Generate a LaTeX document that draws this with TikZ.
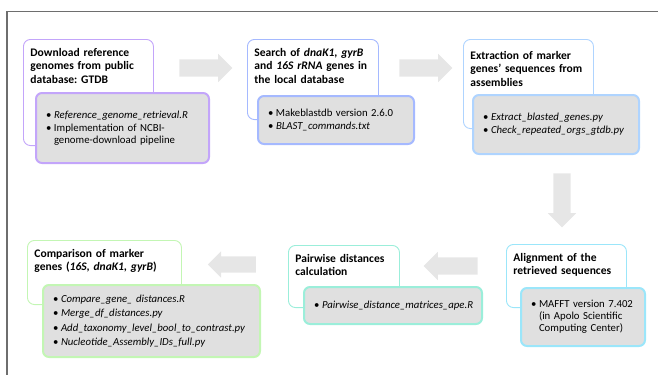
\documentclass[tikz,border=0pt]{standalone}
\usepackage{fontspec}
\setmainfont{Carlito}
\usetikzlibrary{shapes.arrows}

\definecolor{purp}{RGB}{195,165,250}
\definecolor{blu}{RGB}{165,185,255}
\definecolor{ltblu}{RGB}{175,212,255}
\definecolor{cyn}{RGB}{155,230,250}
\definecolor{mint}{RGB}{155,238,218}
\definecolor{grn}{RGB}{195,246,180}
\definecolor{boxgray}{RGB}{224,224,224}
\definecolor{arrowgray}{RGB}{230,230,230}
\definecolor{framegray}{RGB}{110,110,110}

\newcommand{\bul}{\makebox[8bp][l]{\textbullet}}
\newcommand{\bulcont}{\hspace*{8bp}}
\frenchspacing

\begin{document}
\begin{tikzpicture}[x=1bp, y=-1bp,
          titlebox/.style={rectangle, draw=#1, line width=0.9bp, rounded corners=7bp,
            fill=white, anchor=north west, align=left, inner xsep=7bp, inner ysep=9bp,
            font=\bfseries\fontsize{11.6}{13.3}\selectfont},
          toolbox/.style={rectangle, draw=#1, line width=2bp, rounded corners=6bp,
            fill=boxgray, anchor=north west, align=left, inner xsep=10bp, inner ysep=0bp,
            font=\fontsize{10.8}{12}\selectfont},
          bigarrow/.style={single arrow, fill=arrowgray, draw=none, inner xsep=0pt,
            inner ysep=8.5bp, single arrow head extend=5.5bp, minimum height=#1}]

        \useasboundingbox (0,0) rectangle (658,375);
        \draw[framegray, line width=1.2bp] (658,11.5) -- (7,11.5) -- (7,375);

        \node[titlebox=purp, text width=116bp, text depth=80bp] (dload) at (23,39)
          {Download reference\\genomes from public\\database: GTDB};
        \node[toolbox=purp, text width=153bp, minimum height=70bp] (dloadtools) at (35,92)
          {\bul\textit{Reference\_genome\_retrieval.R}\\[1bp]
           \bul Implementation of NCBI-\\\bulcont genome-download pipeline};

        \node[titlebox=blu, text width=117bp, text depth=54bp] (search) at (247,39)
          {Search of \textit{dnaK1}, \textit{gyrB}\\and \textit{16S rRNA} genes~in\\the local database};
        \node[toolbox=blu, text width=136bp, minimum height=48bp] (searchtools) at (257,95)
          {\bul Makeblastdb version 2.6.0\\[2bp]
           \bul\textit{BLAST\_commands.txt}};

        \node[titlebox=ltblu, text width=116bp, text depth=57bp, inner ysep=12bp] (extract) at (463,39)
          {Extraction of marker\\genes’ sequences~from\\assemblies};
        \node[toolbox=ltblu, text width=146bp, minimum height=59bp] (extracttools) at (472,94)
          {\bul\textit{Extract\_blasted\_genes.py}\\[1bp]
           \bul\textit{Check\_repeated\_orgs\_gtdb.py}};

        \node[titlebox=cyn, text width=106bp, text depth=37bp] (align) at (506,244)
          {Alignment of the\\retrieved sequences};
        \node[toolbox=cyn, text width=104bp, minimum height=58bp] (aligntools) at (520,287)
          {\bul MAFFT version 7.402\\\bulcont(in Apolo Scientific\\\bulcont Computing Center)};

        \node[titlebox=mint, text width=97bp, text depth=36bp] (pairw) at (288,245)
          {Pairwise distances\\calculation};
        \node[toolbox=mint, text width=158bp, minimum height=37bp] (pairwtools) at (303,286)
          {\bul\textit{Pairwise\_distance\_matrices\_ape.R}};

        \node[titlebox=grn, text width=140bp, text depth=38bp] (compare) at (27,240)
          {Comparison of marker\\genes (\textit{16S, dnaK1, gyrB})};
        \node[toolbox=grn, text width=197bp, minimum height=72bp] (comparetools) at (42,284)
          {\bul\textit{Compare\_gene\_ distances.R}\\[2.5bp]
           \bul\textit{Merge\_df\_distances.py}\\[2.5bp]
           \bul\textit{Add\_taxonomy\_level\_bool\_to\_contrast.py}\\[2.5bp]
           \bul\textit{Nucleotide\_Assembly\_IDs\_full.py}};

        \node[bigarrow=53bp] (arr1) at (201.5,68) {};
        \node[bigarrow=53bp] (arr2) at (421.5,68) {};
        \node[bigarrow=54bp, shape border rotate=270, inner xsep=8.5bp, inner ysep=0pt]
          (arr3) at (562,196) {};
        \node[bigarrow=54bp, shape border rotate=180] (arr4) at (455,266) {};
        \node[bigarrow=48bp, shape border rotate=180, inner ysep=8bp,
          single arrow head extend=5bp] (arr5) at (236,264.5) {};

      \end{tikzpicture}
\end{document}
